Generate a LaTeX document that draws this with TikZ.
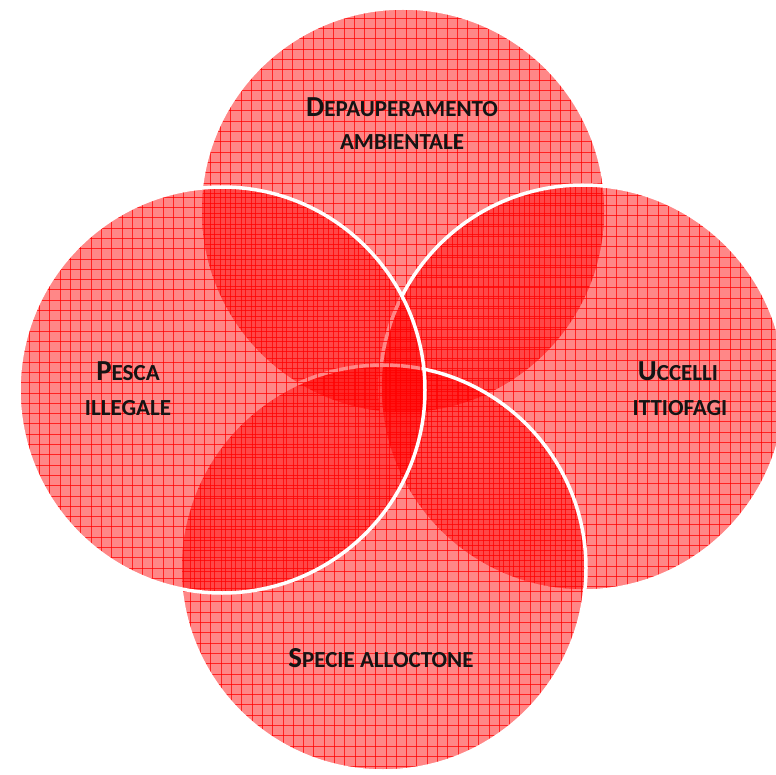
\documentclass[tikz,border=0pt]{standalone}
\usepackage{fontspec}
\setmainfont{Carlito}
\usetikzlibrary{calc}
\newcommand\BigL[1]{{\fontsize{29}{30}\selectfont #1}}
\newcommand\SmL[1]{{\fontsize{23}{30}\selectfont #1}}
\tikzset{
  venn/.style={circle, inner sep=0pt, minimum size=406pt, fill=red, fill opacity=0.47,
    draw=white, line width=3.5pt,
    path picture={
      \foreach \k in {0,...,40}{
        \draw[red, line width=1pt, draw opacity=0.75]
          ($(path picture bounding box.north west)+(\k*10.3,0)$) -- ++(0,420);
        \draw[red, line width=1pt, draw opacity=0.75]
          ($(path picture bounding box.north west)+(0,\k*10.3)$) -- ++(420,0);
      }
    }},
  lbl/.style={anchor=base, inner sep=0pt, text=black!92, font=\bfseries}
}
\begin{document}
\begin{tikzpicture}[x=1pt,y=-1pt]
\useasboundingbox (0,0) rectangle (776,775);
\node[venn] (top) at (403,211) {};
\node[venn] (right) at (583,388) {};
\node[venn] (bottom) at (383,568) {};
\node[venn] (left) at (222,390) {};
\node[lbl] (dep1) at (402,117) {\BigL{D}\SmL{EPAUPERAMENTO}};
\node[lbl] (dep2) at (402,150) {\SmL{AMBIENTALE}};
\node[lbl] (pes1) at (128,380) {\BigL{P}\SmL{ESCA}};
\node[lbl] (pes2) at (128,415) {\SmL{ILLEGALE}};
\node[lbl] (ucc1) at (678,381) {\BigL{U}\SmL{CCELLI}};
\node[lbl] (ucc2) at (680,415) {\SmL{ITTIOFAGI}};
\node[lbl] (spe1) at (381,667) {\BigL{S}\SmL{PECIE ALLOCTONE}};
\end{tikzpicture}
\end{document}
